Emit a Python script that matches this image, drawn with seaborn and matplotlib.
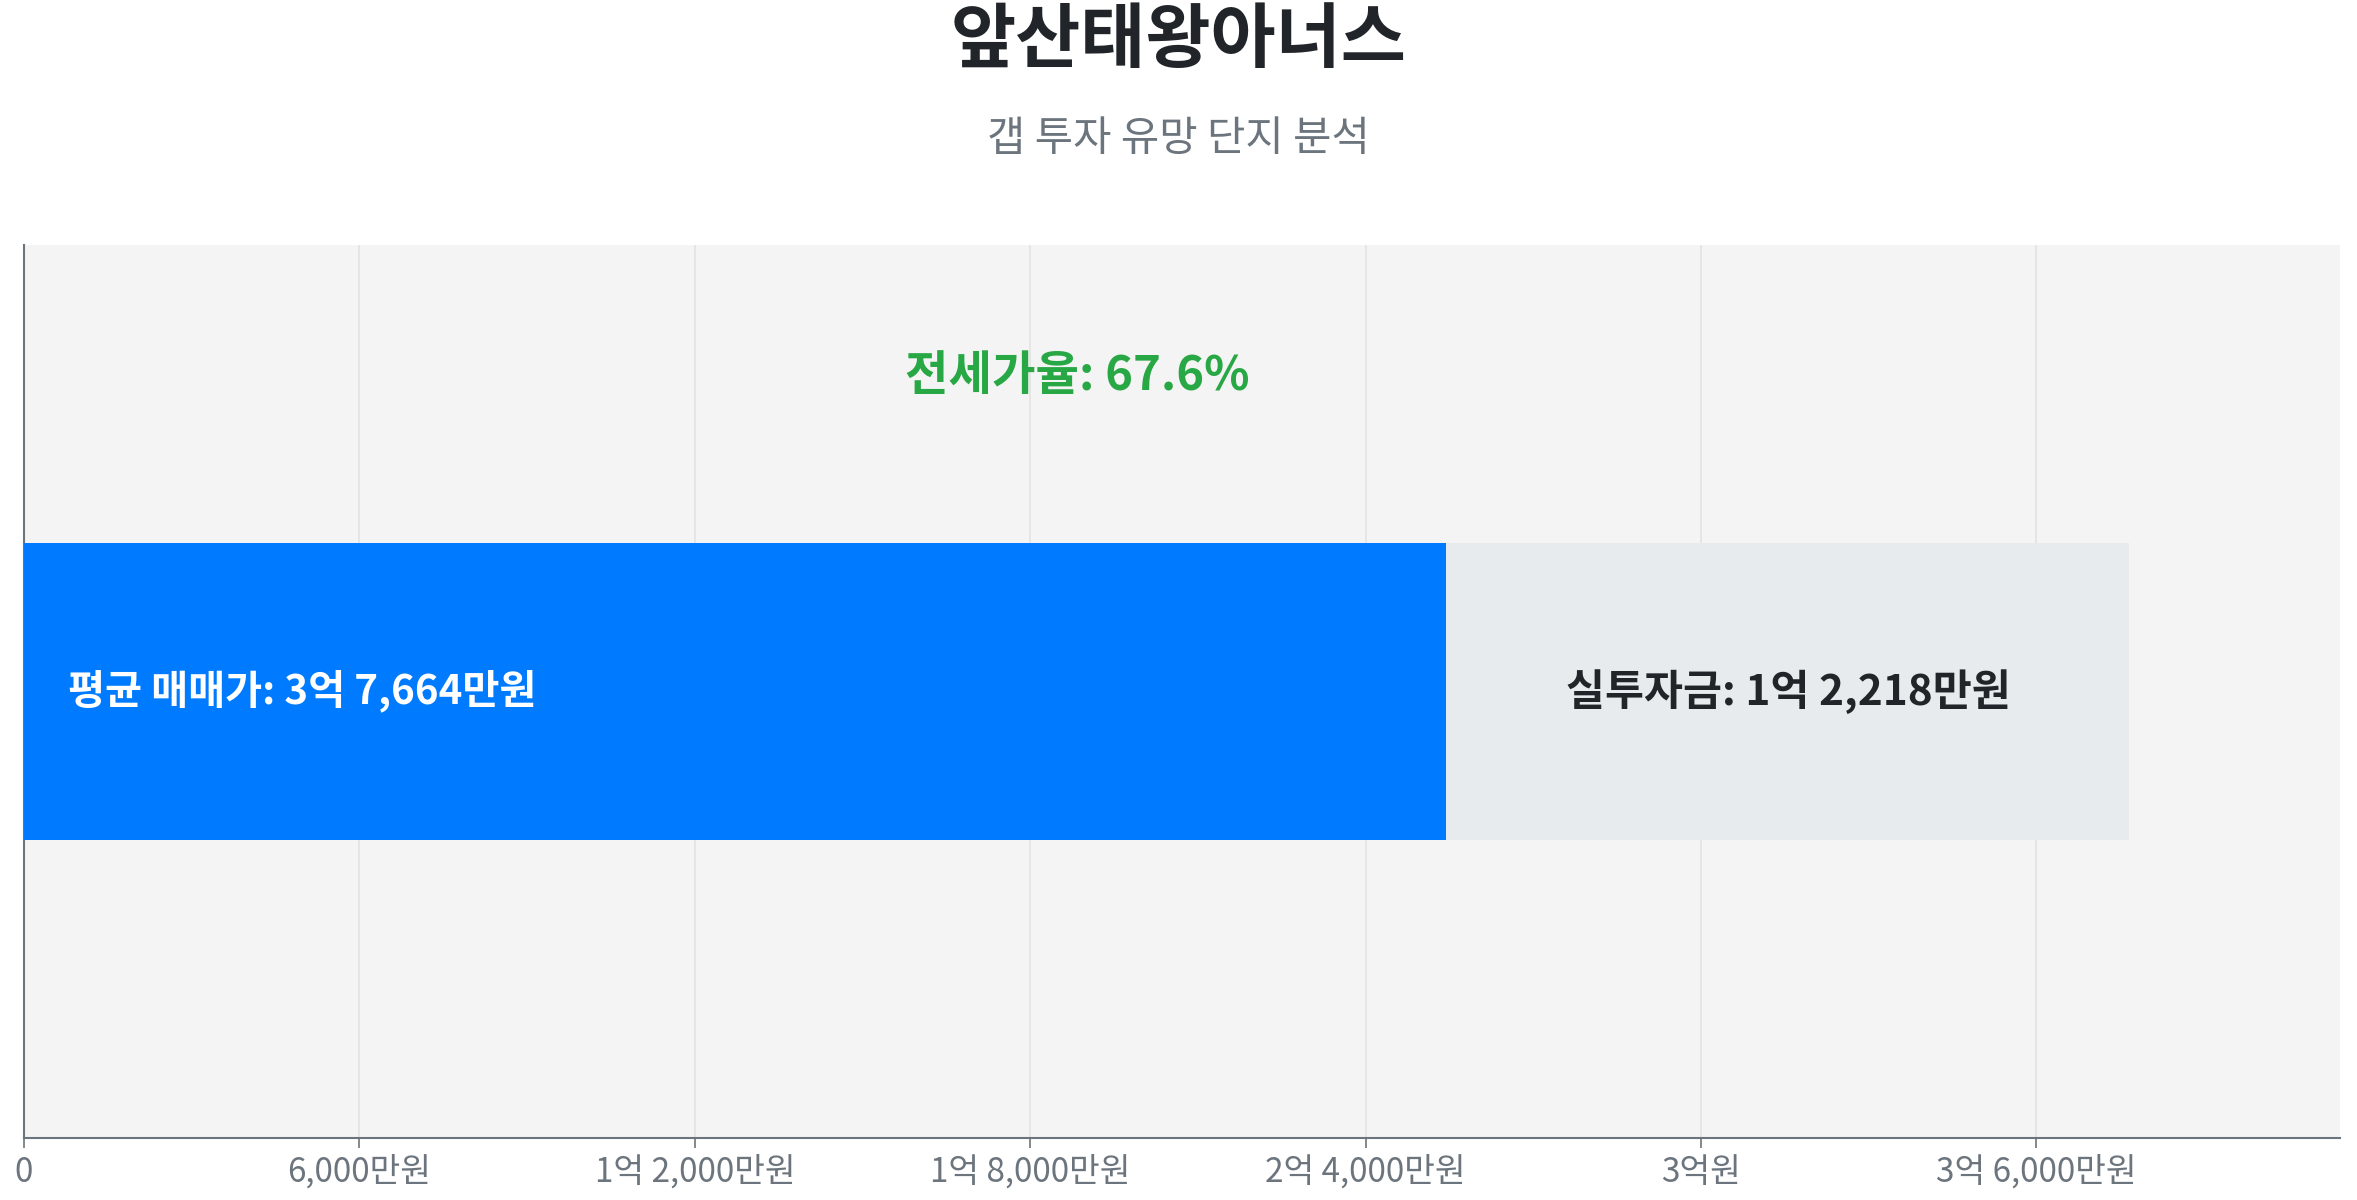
import matplotlib
matplotlib.use('Agg')
import matplotlib.pyplot as plt
import seaborn as sns
import pandas as pd
from matplotlib.ticker import FuncFormatter, MultipleLocator

# values in 만원
complex_name = '앞산태왕아너스'
avg_price = 37664
gap_amount = 12218
jeonse_amount = avg_price - gap_amount
jeonse_ratio = 67.6

sns.set_theme(style='white')
plt.rcParams['font.family'] = ['Noto Sans CJK KR', 'DejaVu Sans']


def fmt_won(v, pos=None):
    v = int(round(v))
    if v == 0:
        return '0'
    eok, man = divmod(v, 10000)
    if eok and man:
        return f'{eok}억 {man:,}만원'
    if eok:
        return f'{eok}억원'
    return f'{man:,}만원'


df = pd.DataFrame({'name': [complex_name], 'total': [avg_price], 'jeonse': [jeonse_amount]})

fig = plt.figure(figsize=(23.57, 12), dpi=100)
ax = fig.add_axes([0.0102, 0.0517, 0.9826, 0.7443])
ax.set_facecolor('#f4f4f4')

sns.barplot(data=df, x='total', y='name', orient='h', color='#e8ebee', width=1,
            saturation=1, linewidth=0, ax=ax, zorder=2)
sns.barplot(data=df, x='jeonse', y='name', orient='h', color='#007bff', width=1,
            saturation=1, linewidth=0, ax=ax, zorder=3)

ax.set_xlim(0, avg_price * 1.1)
ax.set_ylim(1.5, -1.5)
ax.xaxis.set_major_locator(MultipleLocator(6000))
ax.xaxis.set_major_formatter(FuncFormatter(fmt_won))
ax.grid(axis='x', color='#e3e3e3', linewidth=1.2, zorder=0)
ax.set_axisbelow(True)
ax.set_yticks([])
ax.set_xlabel('')
ax.set_ylabel('')
for s in ['top', 'right']:
    ax.spines[s].set_visible(False)
for s in ['left', 'bottom']:
    ax.spines[s].set_color('#6c757d')
    ax.spines[s].set_linewidth(1.5)
ax.tick_params(axis='x', bottom=True, length=7, width=1.2, color='#6c757d',
               labelsize=24, labelcolor='#6c757d', pad=5)

ax.text(avg_price * 0.021, 0, f'평균 매매가: {fmt_won(avg_price)}', color='white',
        fontsize=29, fontweight='bold', ha='left', va='center', zorder=5)
ax.text(jeonse_amount + gap_amount / 2, 0, f'실투자금: {fmt_won(gap_amount)}',
        color='#212529', fontsize=30.5, fontweight='bold', ha='center', va='center', zorder=5)
ax.text(avg_price / 2, -1.06, f'전세가율: {jeonse_ratio}%', color='#28a745',
        fontsize=34, fontweight='bold', ha='center', va='center', zorder=5)

fig.text(0.5, 0.966, complex_name, ha='center', va='center', fontsize=51,
         fontweight='bold', color='#212529')
fig.text(0.5, 0.884, '갭 투자 유망 단지 분석', ha='center', va='center', fontsize=30,
         color='#6c757d')

fig.savefig('out.png', dpi=100)
